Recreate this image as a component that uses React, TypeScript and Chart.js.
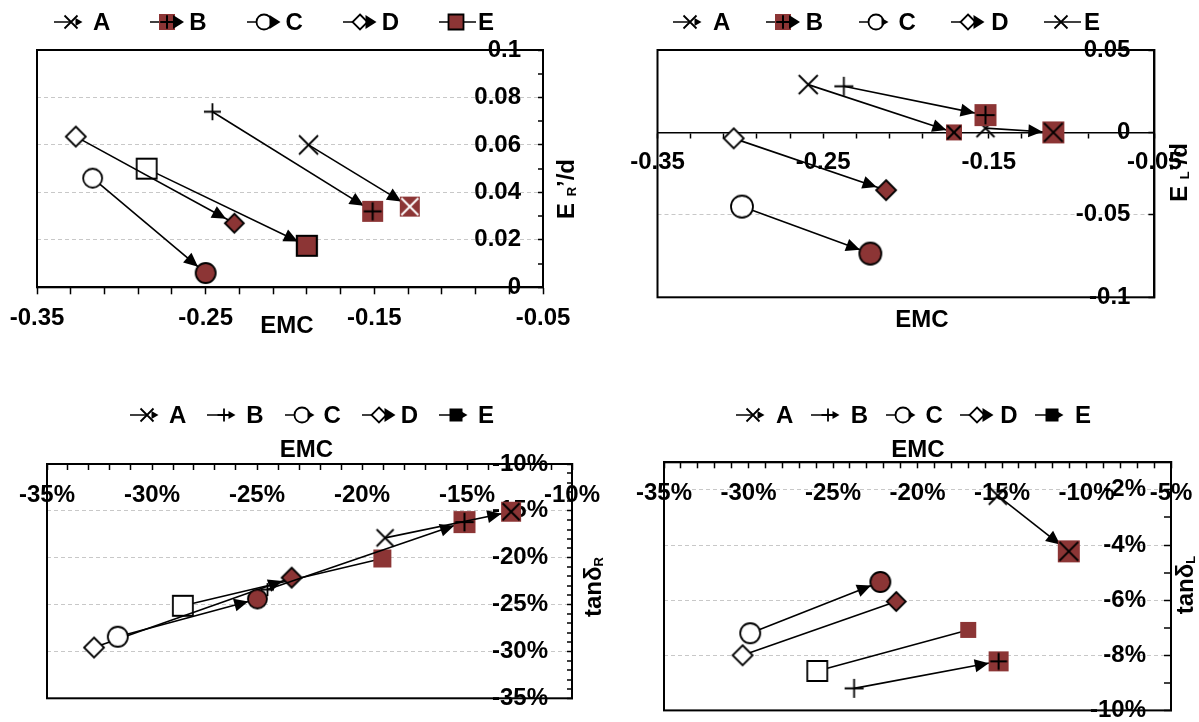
import React, { useEffect, useRef } from 'react';
import { Chart, registerables } from 'chart.js';

Chart.register(...registerables);

const PAGE_W = 1199;
const PAGE_H = 722;
const FONT = '"Liberation Sans", Arial, Helvetica, sans-serif';
const RED = '#8c3535';
const GRID = '#c8c8c8';

const SERIES = ['A', 'B', 'C', 'D', 'E'];

// Panel 1: E_R'/d vs EMC
const ER_START_EMC = [-0.189, -0.246, -0.317, -0.327, -0.285];
const ER_START_VAL = [0.06, 0.074, 0.046, 0.0635, 0.05];
const ER_END_EMC = [-0.129, -0.151, -0.25, -0.233, -0.19];
const ER_END_VAL = [0.034, 0.032, 0.006, 0.027, 0.0175];
const ER_X_LABELS = ['-0.35', '-0.25', '-0.15', '-0.05'];
const ER_Y_LABELS = ['0', '0.02', '0.04', '0.06', '0.08', '0.1'];

// Panel 2: E_L'/d vs EMC
const EL_START_EMC = [-0.259, -0.2375, -0.299, -0.304, -0.152];
const EL_START_VAL = [0.029, 0.028, -0.045, -0.0036, 0.0026];
const EL_END_EMC = [-0.171, -0.152, -0.2215, -0.212, -0.111];
const EL_END_VAL = [0.0, 0.0105, -0.0735, -0.035, 0.0];
const EL_X_LABELS = ['-0.35', '-0.25', '-0.15', '-0.05'];
const EL_Y_LABELS = ['-0.1', '-0.05', '0', '0.05'];

// Panel 3: tanδR vs EMC
const TR_START_EMC = [-0.189, -0.245, -0.3163, -0.3276, -0.2853];
const TR_START_VAL = [-0.1788, -0.234, -0.2843, -0.2958, -0.2513];
const TR_END_EMC = [-0.129, -0.1512, -0.2498, -0.2335, -0.1903];
const TR_END_VAL = [-0.1509, -0.162, -0.244, -0.2213, -0.2008];
const TR_X_LABELS = ['-35%', '-30%', '-25%', '-20%', '-15%', '-10%'];
const TR_Y_LABELS = ['-35%', '-30%', '-25%', '-20%', '-15%', '-10%'];

// Panel 4: tanδL vs EMC
const TL_START_EMC = [-0.1525, -0.2375, -0.299, -0.3035, -0.2593];
const TL_START_VAL = [-0.0221, -0.092, -0.072, -0.08, -0.0857];
const TL_END_EMC = [-0.1105, -0.152, -0.222, -0.2126, -0.17];
const TL_END_VAL = [-0.0423, -0.0822, -0.0534, -0.0605, -0.0708];
const TL_X_LABELS = ['-35%', '-30%', '-25%', '-20%', '-15%', '-10%', '-5%'];
const TL_Y_LABELS = ['-10%', '-8%', '-6%', '-4%', '-2%'];

type Mk = {
  shape: string;
  size: number;
  fill?: string;
  stroke?: string | null;
  lw?: number;
  inner?: string;
  innerColor?: string;
};
type AxisSpec = {
  min: number;
  max: number;
  step: number;
  labels: string[];
  pos: any;
  tl: number;
  pad: number;
  mirror: boolean;
  bw: number;
  boxH?: number;
};
type Part = { t: string; size: number; dy?: number };
type Sym = { mk: Mk; tri: number; through?: boolean };
type Panel = {
  sx: number[];
  sy: number[];
  ex: number[];
  ey: number[];
  area: { l: number; t: number; r: number; b: number };
  x: AxisSpec;
  y: AxisSpec;
  startMk: Mk[];
  endMk: Mk[];
  arrows: boolean[];
  legend: { x0: number; step: number; y: number; dx: number; syms: Sym[] };
  xTitle: { cx: number; cy: number };
  yTitle: { cx: number; cy: number; parts: Part[] };
};

const open = (shape: string, size: number): Mk => ({ shape, size, fill: '#fff', stroke: '#000', lw: 1.8 });
const solid = (shape: string, size: number, stroke = true, fill = RED): Mk => ({
  shape,
  size,
  fill,
  stroke: stroke ? '#000' : null,
  lw: 1.8,
});
const marked = (size: number, inner: string, innerColor = '#000'): Mk => ({
  shape: 'square',
  size,
  fill: RED,
  stroke: null,
  inner,
  innerColor,
});

function drawShape(g: CanvasRenderingContext2D, m: Mk, cx: number, cy: number) {
  const h = m.size / 2;
  g.save();
  g.lineWidth = m.lw ?? 1.8;
  g.strokeStyle = m.stroke || '#000';
  g.fillStyle = m.fill ?? '#fff';
  g.beginPath();
  if (m.shape === 'x' || m.shape === 'plus') {
    if (m.shape === 'x') {
      g.moveTo(cx - h, cy - h);
      g.lineTo(cx + h, cy + h);
      g.moveTo(cx + h, cy - h);
      g.lineTo(cx - h, cy + h);
    } else {
      g.moveTo(cx - h, cy);
      g.lineTo(cx + h, cy);
      g.moveTo(cx, cy - h);
      g.lineTo(cx, cy + h);
    }
    g.stroke();
  } else {
    if (m.shape === 'circle') g.arc(cx, cy, h, 0, Math.PI * 2);
    else if (m.shape === 'diamond') {
      g.moveTo(cx, cy - h);
      g.lineTo(cx + h, cy);
      g.lineTo(cx, cy + h);
      g.lineTo(cx - h, cy);
      g.closePath();
    } else g.rect(cx - h, cy - h, 2 * h, 2 * h);
    g.fill();
    if (m.stroke) g.stroke();
  }
  if (m.inner) {
    const k = h * 0.85;
    g.strokeStyle = m.innerColor || '#000';
    g.lineWidth = 2;
    g.beginPath();
    if (m.inner === 'x') {
      g.moveTo(cx - k, cy - k);
      g.lineTo(cx + k, cy + k);
      g.moveTo(cx + k, cy - k);
      g.lineTo(cx - k, cy + k);
    } else {
      g.moveTo(cx - k, cy);
      g.lineTo(cx + k, cy);
      g.moveTo(cx, cy - k);
      g.lineTo(cx, cy + k);
    }
    g.stroke();
  }
  g.restore();
}

function markerCanvas(m: Mk): HTMLCanvasElement {
  const S = Math.ceil(m.size + 6);
  const c = document.createElement('canvas');
  c.width = S;
  c.height = S;
  drawShape(c.getContext('2d')!, m, S / 2, S / 2);
  return c;
}

function symCanvas(s: Sym): HTMLCanvasElement {
  const c = document.createElement('canvas');
  c.width = 38;
  c.height = 26;
  const g = c.getContext('2d')!;
  const cy = 13;
  const cx = 17;
  g.strokeStyle = '#000';
  g.lineWidth = 1.5;
  g.beginPath();
  g.moveTo(0, cy);
  g.lineTo(s.through ? 37 : cx, cy);
  g.stroke();
  drawShape(g, s.mk, cx, cy);
  if (s.tri) {
    const x0 = cx + s.mk.size / 2 - 2;
    const len = s.tri === 1 ? 7 : 11;
    const hw = s.tri === 1 ? 4 : 7;
    g.fillStyle = '#000';
    g.beginPath();
    g.moveTo(x0, cy - hw);
    g.lineTo(x0 + len, cy);
    g.lineTo(x0, cy + hw);
    g.closePath();
    g.fill();
  }
  return c;
}

const labelValue = (s: string) => (s.endsWith('%') ? parseFloat(s) / 100 : parseFloat(s));
const findLabel = (labels: string[], v: number) => labels.find((l) => Math.abs(labelValue(l) - v) < 1e-7);
const tickValues = (min: number, max: number, step: number) => {
  const n = Math.round((max - min) / step);
  return Array.from({ length: n + 1 }, (_, i) => ({ value: Math.round((min + i * step) * 1e6) / 1e6 }));
};

function drawRich(g: CanvasRenderingContext2D, parts: Part[], cx: number, cy: number, rot: number) {
  g.save();
  g.translate(cx, cy);
  g.rotate(rot);
  let total = 0;
  const widths = parts.map((p) => {
    g.font = `bold ${p.size}px ${FONT}`;
    const w = g.measureText(p.t).width;
    total += w;
    return w;
  });
  let x = -total / 2;
  g.textAlign = 'left';
  g.textBaseline = 'alphabetic';
  g.fillStyle = '#000';
  parts.forEach((p, i) => {
    g.font = `bold ${p.size}px ${FONT}`;
    g.fillText(p.t, x, 8.5 + (p.dy || 0));
    x += widths[i];
  });
  g.restore();
}

const ER_PARTS: Part[] = [
  { t: 'E ', size: 24 },
  { t: 'R', size: 13, dy: 2 },
  { t: '\u2019/d', size: 24 },
];
const EL_PARTS: Part[] = [
  { t: 'E ', size: 24 },
  { t: 'L', size: 13, dy: 2 },
  { t: '\u2019/d', size: 24 },
];
const TR_PARTS: Part[] = [
  { t: 'tan\u03b4', size: 24 },
  { t: 'R', size: 13, dy: 2 },
];
const TL_PARTS: Part[] = [
  { t: 'tan\u03b4', size: 24 },
  { t: 'L', size: 13, dy: 2 },
];

const PANELS: Panel[] = [
  {
    sx: ER_START_EMC,
    sy: ER_START_VAL,
    ex: ER_END_EMC,
    ey: ER_END_VAL,
    area: { l: 37, t: 50, r: 543, b: 287.3 },
    x: { min: -0.35, max: -0.05, step: 0.02, labels: ER_X_LABELS, pos: 'bottom', tl: 7, pad: 10, mirror: false, bw: 2, boxH: 60 },
    y: { min: 0, max: 0.1, step: 0.01, labels: ER_Y_LABELS, pos: 'right', tl: -5, pad: -22, mirror: true, bw: 2 },
    startMk: [open('x', 19), open('plus', 17), open('circle', 19), open('diamond', 20), open('square', 20)],
    endMk: [marked(20, 'x', '#fff'), marked(21, 'plus'), solid('circle', 20), solid('diamond', 19), { ...solid('square', 20), lw: 2.2 }],
    arrows: [true, true, true, true, true],
    legend: {
      x0: 54,
      step: 96.25,
      y: 22,
      dx: 39,
      syms: [
        { mk: open('x', 13), tri: 1 },
        { mk: marked(16, 'plus'), tri: 2 },
        { mk: open('circle', 15), tri: 2 },
        { mk: open('diamond', 15), tri: 2 },
        { mk: solid('square', 15), tri: 0, through: true },
      ],
    },
    xTitle: { cx: 287, cy: 326 },
    yTitle: { cx: 565, cy: 189, parts: ER_PARTS },
  },
  {
    sx: EL_START_EMC,
    sy: EL_START_VAL,
    ex: EL_END_EMC,
    ey: EL_END_VAL,
    area: { l: 657.5, t: 50, r: 1154.4, b: 297.3 },
    x: { min: -0.35, max: -0.05, step: 0.02, labels: EL_X_LABELS, pos: { y: 0 }, tl: 5, pad: 11, mirror: false, bw: 1.5 },
    y: { min: -0.1, max: 0.05, step: 0.05, labels: EL_Y_LABELS, pos: 'right', tl: -6, pad: -24, mirror: true, bw: 2 },
    startMk: [open('x', 19), open('plus', 19), open('circle', 22), open('diamond', 20), open('x', 18)],
    endMk: [marked(16, 'x'), marked(22, 'plus'), solid('circle', 22), solid('diamond', 20), marked(22, 'x')],
    arrows: [true, true, true, true, true],
    legend: {
      x0: 673,
      step: 92.75,
      y: 22,
      dx: 40,
      syms: [
        { mk: open('x', 13), tri: 1 },
        { mk: marked(16, 'plus'), tri: 2 },
        { mk: open('circle', 15), tri: 1 },
        { mk: open('diamond', 15), tri: 2 },
        { mk: open('x', 13), tri: 0, through: true },
      ],
    },
    xTitle: { cx: 922, cy: 320 },
    yTitle: { cx: 1178.5, cy: 172.5, parts: EL_PARTS },
  },
  {
    sx: TR_START_EMC,
    sy: TR_START_VAL,
    ex: TR_END_EMC,
    ey: TR_END_VAL,
    area: { l: 47, t: 464, r: 572, b: 698.3 },
    x: { min: -0.35, max: -0.1, step: 0.01, labels: TR_X_LABELS, pos: 'top', tl: -6, pad: 16.5, mirror: true, bw: 2 },
    y: { min: -0.35, max: -0.1, step: 0.01, labels: TR_Y_LABELS, pos: 'right', tl: -5, pad: -24, mirror: true, bw: 2 },
    startMk: [open('x', 17), open('plus', 13), open('circle', 20), open('diamond', 20), open('square', 20)],
    endMk: [marked(20, 'x'), marked(22, 'plus'), solid('circle', 19), solid('diamond', 20), solid('square', 18, false)],
    arrows: [true, true, true, true, false],
    legend: {
      x0: 130,
      step: 77.25,
      y: 415,
      dx: 39,
      syms: [
        { mk: open('x', 13), tri: 1 },
        { mk: open('plus', 13), tri: 1 },
        { mk: open('circle', 15), tri: 1 },
        { mk: open('diamond', 15), tri: 2 },
        { mk: solid('square', 13, false, '#000'), tri: 1 },
      ],
    },
    xTitle: { cx: 306.5, cy: 450 },
    yTitle: { cx: 592, cy: 587, parts: TR_PARTS },
  },
  {
    sx: TL_START_EMC,
    sy: TL_START_VAL,
    ex: TL_END_EMC,
    ey: TL_END_VAL,
    area: { l: 664, t: 462.3, r: 1171, b: 711.7 },
    x: { min: -0.35, max: -0.05, step: 0.01, labels: TL_X_LABELS, pos: 'top', tl: -6, pad: 16.3, mirror: true, bw: 2 },
    y: { min: -0.1, max: -0.01, step: 0.01, labels: TL_Y_LABELS, pos: 'right', tl: -7, pad: -25, mirror: true, bw: 2 },
    startMk: [open('x', 18), open('plus', 19), open('circle', 20), open('diamond', 20), open('square', 20)],
    endMk: [marked(22, 'x'), marked(20, 'plus'), solid('circle', 20), solid('diamond', 19), solid('square', 16, false)],
    arrows: [true, true, true, false, false],
    legend: {
      x0: 736,
      step: 74.75,
      y: 415,
      dx: 40,
      syms: [
        { mk: open('x', 13), tri: 1 },
        { mk: open('plus', 13), tri: 1 },
        { mk: open('circle', 15), tri: 1 },
        { mk: open('diamond', 15), tri: 2 },
        { mk: solid('square', 13, false, '#000'), tri: 1 },
      ],
    },
    xTitle: { cx: 918, cy: 450 },
    yTitle: { cx: 1184, cy: 585, parts: TL_PARTS },
  },
];

function buildConfig(p: Panel): any {
  const tickFont = { family: FONT, size: 24, weight: 'bold' };
  const zeroPad = (s: any) => {
    s.paddingLeft = 0;
    s.paddingRight = 0;
    s.paddingTop = 0;
    s.paddingBottom = 0;
  };
  const legendImgs = p.legend.syms.map(symCanvas);
  const xBox = p.x.boxH ?? 0;
  const bottomBox = p.x.pos === 'bottom' ? xBox : 0;
  const topBox = p.x.pos === 'top' ? xBox : 0;

  const datasets = SERIES.map((name, i) => ({
    label: name,
    data: [
      { x: p.sx[i], y: p.sy[i] },
      { x: p.ex[i], y: p.ey[i] },
    ],
    showLine: true,
    borderColor: '#000',
    borderWidth: 1.6,
    backgroundColor: '#000',
    pointStyle: [markerCanvas(p.startMk[i]), markerCanvas(p.endMk[i])],
    pointRadius: 10,
    pointHoverRadius: 10,
    clip: false,
  }));

  const deco = {
    id: 'panelDeco',
    beforeDatasetsDraw(chart: any) {
      const g: CanvasRenderingContext2D = chart.ctx;
      const a = chart.chartArea;
      g.save();
      g.strokeStyle = '#000';
      g.lineWidth = 2;
      g.strokeRect(a.left, a.top, a.right - a.left, a.bottom - a.top);
      g.fillStyle = '#000';
      chart.data.datasets.forEach((_: any, i: number) => {
        if (!p.arrows[i]) return;
        const meta = chart.getDatasetMeta(i);
        const s = meta.data[0];
        const e = meta.data[1];
        const dx = e.x - s.x;
        const dy = e.y - s.y;
        const L = Math.hypot(dx, dy) || 1;
        const ux = dx / L;
        const uy = dy / L;
        const gap = p.endMk[i].size / 2;
        const tx = e.x - ux * gap;
        const ty = e.y - uy * gap;
        const len = 14;
        const hw = 6.5;
        const bx = tx - ux * len;
        const by = ty - uy * len;
        g.beginPath();
        g.moveTo(tx, ty);
        g.lineTo(bx - uy * hw, by + ux * hw);
        g.lineTo(bx + uy * hw, by - ux * hw);
        g.closePath();
        g.fill();
      });
      g.restore();
    },
    afterDraw(chart: any) {
      const g: CanvasRenderingContext2D = chart.ctx;
      g.save();
      g.font = `bold 24px ${FONT}`;
      g.textBaseline = 'middle';
      g.textAlign = 'left';
      g.fillStyle = '#000';
      SERIES.forEach((name, i) => {
        const x = p.legend.x0 + i * p.legend.step;
        const img = legendImgs[i];
        g.drawImage(img, Math.round(x), Math.round(p.legend.y - img.height / 2));
        g.fillText(name, x + p.legend.dx, p.legend.y + 1);
      });
      g.textAlign = 'center';
      g.fillText('EMC', p.xTitle.cx, p.xTitle.cy);
      g.restore();
      drawRich(g, p.yTitle.parts, p.yTitle.cx, p.yTitle.cy, -Math.PI / 2);
    },
  };

  const gridWidth = (labels: string[]) => (c: any) =>
    c.tick && findLabel(labels, c.tick.value) !== undefined ? 1 : 0;

  return {
    type: 'scatter',
    data: { datasets },
    options: {
      responsive: false,
      maintainAspectRatio: false,
      animation: false,
      events: [],
      layout: {
        padding: {
          left: p.area.l,
          top: p.area.t - topBox,
          right: PAGE_W - p.area.r,
          bottom: PAGE_H - p.area.b - bottomBox,
        },
      },
      plugins: { legend: { display: false }, tooltip: { enabled: false } },
      scales: {
        x: {
          type: 'linear',
          position: p.x.pos,
          min: p.x.min,
          max: p.x.max,
          afterBuildTicks: (s: any) => {
            s.ticks = tickValues(p.x.min, p.x.max, p.x.step);
          },
          ticks: {
            autoSkip: false,
            maxRotation: 0,
            minRotation: 0,
            mirror: p.x.mirror,
            padding: p.x.pad,
            color: '#000',
            font: tickFont,
            callback: (v: number) => findLabel(p.x.labels, v) ?? '',
          },
          grid: {
            drawOnChartArea: false,
            drawTicks: true,
            tickLength: p.x.tl,
            tickWidth: 1.5,
            tickColor: '#000',
          },
          border: { display: true, color: '#000', width: p.x.bw },
          afterFit: (s: any) => {
            s.height = xBox;
            zeroPad(s);
          },
        },
        y: {
          type: 'linear',
          position: p.y.pos,
          min: p.y.min,
          max: p.y.max,
          afterBuildTicks: (s: any) => {
            s.ticks = tickValues(p.y.min, p.y.max, p.y.step);
          },
          ticks: {
            autoSkip: false,
            mirror: p.y.mirror,
            padding: p.y.pad,
            color: '#000',
            font: tickFont,
            callback: (v: number) => findLabel(p.y.labels, v) ?? '',
          },
          grid: {
            drawOnChartArea: true,
            color: GRID,
            lineWidth: gridWidth(p.y.labels),
            borderDash: [4, 3],
            drawTicks: true,
            tickLength: p.y.tl,
            tickWidth: 1.5,
            tickColor: '#000',
          },
          border: { display: true, color: '#000', width: p.y.bw, dash: [4, 3] },
          afterFit: (s: any) => {
            s.width = 0;
            zeroPad(s);
          },
        },
      },
    },
    plugins: [deco],
  };
}

function PanelChart({ p }: { p: Panel }) {
  const ref = useRef<HTMLCanvasElement>(null);
  useEffect(() => {
    const chart = new Chart(ref.current as HTMLCanvasElement, buildConfig(p));
    return () => chart.destroy();
  }, [p]);
  return (
    <canvas
      ref={ref}
      width={PAGE_W}
      height={PAGE_H}
      style={{ position: 'absolute', left: 0, top: 0, width: PAGE_W, height: PAGE_H }}
    />
  );
}

export default function App() {
  return (
    <div
      style={{
        position: 'fixed',
        left: 0,
        top: 0,
        width: PAGE_W,
        height: PAGE_H,
        background: '#fff',
        overflow: 'hidden',
      }}
    >
      {PANELS.map((p, i) => (
        <PanelChart key={i} p={p} />
      ))}
    </div>
  );
}
